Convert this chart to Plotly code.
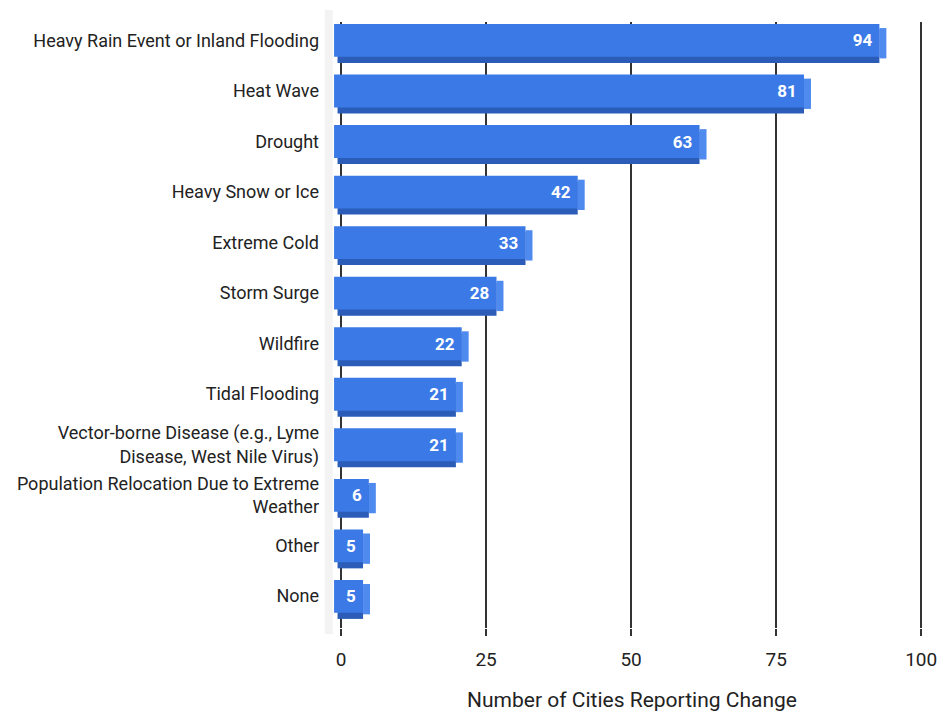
import plotly.graph_objects as go

categories = [
    "Heavy Rain Event or Inland Flooding",
    "Heat Wave",
    "Drought",
    "Heavy Snow or Ice",
    "Extreme Cold",
    "Storm Surge",
    "Wildfire",
    "Tidal Flooding",
    "Vector-borne Disease (e.g., Lyme<br>Disease, West Nile Virus)",
    "Population Relocation Due to Extreme<br>Weather",
    "Other",
    "None",
]
values = [94, 81, 63, 42, 33, 28, 22, 21, 21, 6, 5, 5]

pos = list(range(len(categories)))
DEPTH = 1.2  # 3D depth in value units

FRONT = "#3b7ae6"
SIDE = "#4f8aee"
BOTTOM = "#2b5cb8"

fig = go.Figure()

# bottom face (shadow)
fig.add_trace(go.Bar(
    y=pos, x=[v - DEPTH * 0.5 for v in values], base=[-DEPTH * 0.5] * len(values),
    orientation="h", offset=-0.2, width=0.65,
    marker=dict(color=BOTTOM, line=dict(width=0)), hoverinfo="skip", showlegend=False,
))
# right side face
fig.add_trace(go.Bar(
    y=pos, x=[DEPTH] * len(values), base=[v - DEPTH for v in values],
    orientation="h", offset=-0.24, width=0.6,
    marker=dict(color=SIDE, line=dict(width=0)), hoverinfo="skip", showlegend=False,
))
# front face
fig.add_trace(go.Bar(
    y=pos, x=values, base=[-DEPTH] * len(values),
    orientation="h", offset=-0.32, width=0.65,
    marker=dict(color=FRONT, line=dict(width=0)),
    text=[f"{v}\u00a0" for v in values],
    textposition="inside", insidetextanchor="end",
    textfont=dict(family="Roboto", size=17, color="white", weight="bold"),
    constraintext="none",
    showlegend=False,
))

fig.update_layout(
    width=943, height=712,
    margin=dict(l=326, r=5, t=22, b=84),
    barmode="overlay",
    plot_bgcolor="white", paper_bgcolor="white",
    font=dict(family="Roboto", color="#222222"),
    shapes=[dict(
        type="rect", xref="paper", yref="paper", x0=-0.002, x1=0.011, y0=-0.01, y1=1.02,
        fillcolor="#f3f3f3", line=dict(width=0), layer="below",
    )],
)

fig.update_xaxes(
    range=[-2.59, 102.9],
    tickvals=[0, 25, 50, 75, 100],
    showgrid=True, gridcolor="#333333", gridwidth=1.5,
    zeroline=True, zerolinecolor="#333333", zerolinewidth=1.5,
    ticks="outside", ticklen=7, tickcolor="#333333", tickwidth=1.5,
    tickfont=dict(size=19, color="#222222"),
    ticklabelstandoff=7,
    title=dict(text="Number of Cities Reporting Change", font=dict(size=21, color="#222222"), standoff=22),
    showline=False,
)
fig.update_yaxes(
    range=[11.63, -0.36],
    tickvals=pos, ticktext=categories,
    showgrid=False, zeroline=False, ticks="",
    tickfont=dict(size=18, color="#222222"),
    ticklabelstandoff=6,
)

fig.write_html("out.html")
